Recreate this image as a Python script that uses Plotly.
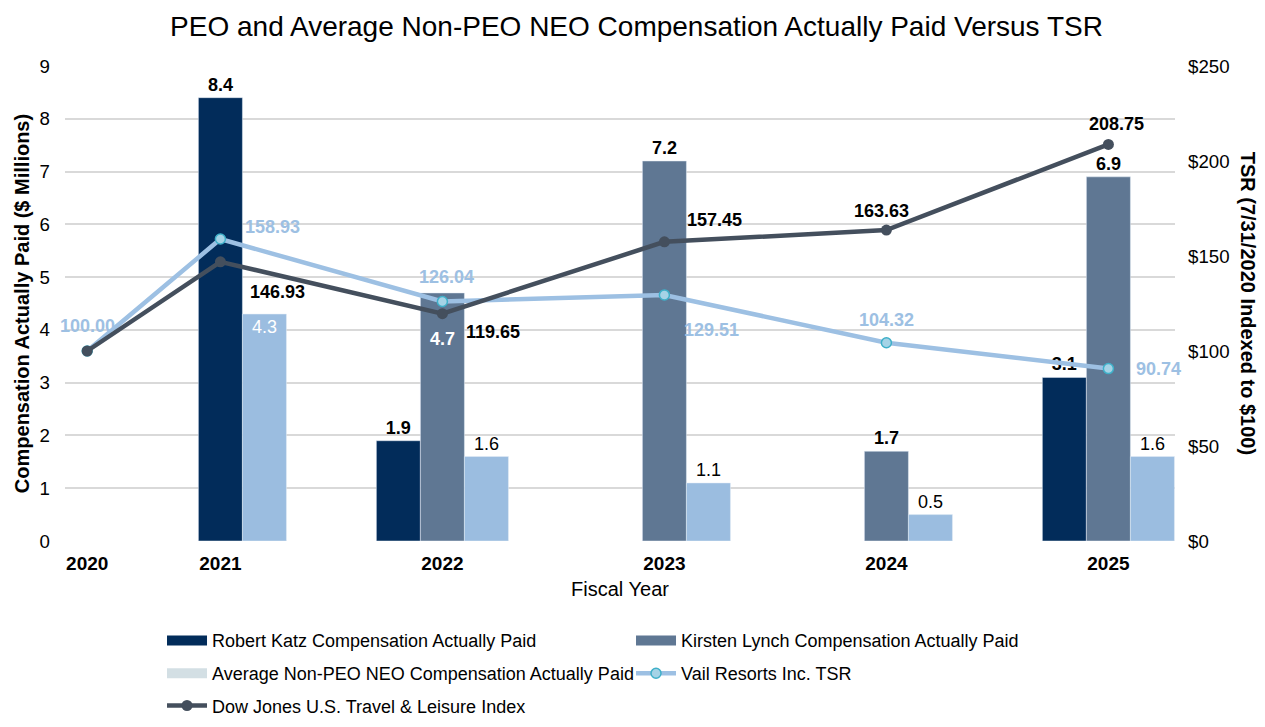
import plotly.graph_objects as go

years = ["2020", "2021", "2022", "2023", "2024", "2025"]
# axis placement of each fiscal year on the horizontal axis
x_pos = [0.4, 1, 2, 3, 4, 5]

katz = [None, 8.4, 1.9, None, None, 3.1]
lynch = [None, None, 4.7, 7.2, 1.7, 6.9]
avg_neo = [None, 4.3, 1.6, 1.1, 0.5, 1.6]
vail_tsr = [100.00, 158.93, 126.04, 129.51, 104.32, 90.74]
dow_jones = [100.00, 146.93, 119.65, 157.45, 163.63, 208.75]

C_KATZ = "#022c5a"
C_LYNCH = "#5f7793"
C_AVG = "#9bbde0"
C_AVG_LEG = "#d3dfe4"
C_VAIL = "#9dc0e3"
C_DOW = "#444f5d"
FONT = "Liberation Sans, Arial, sans-serif"
LBL = 18

# label offsets (pixels) of the line value labels relative to their points
vail_lbl_shift = [(0, 25), (52, 12), (4, 25), (47, -35), (0, 23), (50, 0)]
dow_lbl_shift = [None, (57, -30), (51, -18), (50, 22), (-5, 19), (8, 20)]

fig = go.Figure()

i21 = years.index("2021")
i22 = years.index("2022")
kx = [x_pos[i] for i in range(len(years)) if katz[i] is not None and i != i21]
ky = [katz[i] for i in range(len(years)) if katz[i] is not None and i != i21]

fig.add_trace(go.Bar(
    x=kx, y=ky, name="Robert Katz Compensation Actually Paid",
    marker_color=C_KATZ, offsetgroup="a", showlegend=False,
    text=[f"{v:.1f}" for v in ky], textposition="outside",
    textfont=dict(family=FONT, size=LBL, color="black", weight="bold"),
    cliponaxis=False, hoverinfo="skip"))

lx = [x_pos[i] for i in range(len(years)) if lynch[i] is not None]
ly = [v for v in lynch if v is not None]
lpos = ["none" if y == "2022" else "outside" for y, v in zip(years, lynch) if v is not None]
fig.add_trace(go.Bar(
    x=lx, y=ly, name="Kirsten Lynch Compensation Actually Paid",
    marker_color=C_LYNCH, offsetgroup="b", showlegend=False,
    text=[f"{v:.1f}" for v in ly], textposition=lpos,
    outsidetextfont=dict(family=FONT, size=LBL, color="black", weight="bold"),
    textangle=0, cliponaxis=False, hoverinfo="skip"))

# Katz 2021 sits in the middle slot of its group (no Lynch value that year)
fig.add_trace(go.Bar(
    x=[x_pos[i21]], y=[katz[i21]], name="Robert Katz Compensation Actually Paid",
    marker_color=C_KATZ, offsetgroup="b", showlegend=False,
    text=[f"{katz[i21]:.1f}"], textposition="outside",
    textfont=dict(family=FONT, size=LBL, color="black", weight="bold"),
    cliponaxis=False, hoverinfo="skip"))

ax = [x_pos[i] for i in range(len(years)) if avg_neo[i] is not None]
ay = [v for v in avg_neo if v is not None]
apos = ["inside" if y == "2021" else "outside" for y, v in zip(years, avg_neo) if v is not None]
fig.add_trace(go.Bar(
    x=ax, y=ay, name="Average Non-PEO NEO Compensation Actually Paid",
    marker_color=C_AVG, offsetgroup="c", showlegend=False,
    text=[f"{v:.1f}" for v in ay], textposition=apos, insidetextanchor="end",
    insidetextfont=dict(family=FONT, size=LBL, color="white"),
    outsidetextfont=dict(family=FONT, size=LBL, color="black"),
    textangle=0, cliponaxis=False, hoverinfo="skip"))

fig.add_trace(go.Scatter(
    x=x_pos, y=vail_tsr, yaxis="y2", name="Vail Resorts Inc. TSR", showlegend=False,
    mode="lines+markers",
    line=dict(color=C_VAIL, width=4.5),
    marker=dict(size=10, color="#a5d3e6", line=dict(color="#3fb0c9", width=1.5)),
    cliponaxis=False, hoverinfo="skip"))

fig.add_trace(go.Scatter(
    x=x_pos, y=dow_jones, yaxis="y2", name="Dow Jones U.S. Travel & Leisure Index",
    showlegend=False, mode="lines+markers",
    line=dict(color=C_DOW, width=4.5),
    marker=dict(size=11, color=C_DOW),
    cliponaxis=False, hoverinfo="skip"))

# legend entries (rectangular swatches for the bar series, as in the reference)
legend_items = [
    ("Robert Katz Compensation Actually Paid", "legend", dict(mode="lines", line=dict(color=C_KATZ, width=10))),
    ("Kirsten Lynch Compensation Actually Paid", "legend", dict(mode="lines", line=dict(color=C_LYNCH, width=10))),
    ("Average Non-PEO NEO Compensation Actually Paid", "legend2", dict(mode="lines", line=dict(color=C_AVG_LEG, width=10))),
    ("Vail Resorts Inc. TSR", "legend2", dict(mode="lines+markers", line=dict(color=C_VAIL, width=4.5),
                                               marker=dict(size=10, color="#a5d3e6", line=dict(color="#3fb0c9", width=1.5)))),
    ("Dow Jones U.S. Travel & Leisure Index", "legend3", dict(mode="lines+markers", line=dict(color=C_DOW, width=4.5),
                                                              marker=dict(size=11, color=C_DOW))),
]
for name, leg, style in legend_items:
    fig.add_trace(go.Scatter(x=[None], y=[None], name=name, legend=leg, hoverinfo="skip", **style))

annotations = []
for i, v in enumerate(vail_tsr):
    dx, dy = vail_lbl_shift[i]
    annotations.append(dict(x=x_pos[i], y=v, xref="x", yref="y2", text=f"<b>{v:.2f}</b>",
                            showarrow=False, xshift=dx, yshift=dy,
                            font=dict(family=FONT, size=LBL, color=C_VAIL)))
for i, v in enumerate(dow_jones):
    if dow_lbl_shift[i] is None:
        continue
    dx, dy = dow_lbl_shift[i]
    annotations.append(dict(x=x_pos[i], y=v, xref="x", yref="y2", text=f"<b>{v:.2f}</b>",
                            showarrow=False, xshift=dx, yshift=dy,
                            font=dict(family=FONT, size=LBL, color="black")))
# Lynch 2022 value label, drawn inside its bar below the line markers
annotations.append(dict(x=x_pos[i22], y=lynch[i22], xref="x", yref="y", text=f"<b>{lynch[i22]:.1f}</b>",
                        showarrow=False, yshift=-46, font=dict(family=FONT, size=LBL, color="white")))
annotations.append(dict(text="<b>TSR (7/31/2020 Indexed to $100)</b>", xref="paper", yref="paper",
                        x=1.0665, y=0.5, xanchor="center", yanchor="middle", textangle=90,
                        showarrow=False, font=dict(family=FONT, size=20, color="black")))

leg_common = dict(orientation="h", x=0.0874, xanchor="left", yanchor="top",
                  entrywidth=414, entrywidthmode="pixels", traceorder="normal",
                  font=dict(family=FONT, size=18, color="black"),
                  itemwidth=40, bgcolor="rgba(0,0,0,0)")

fig.update_layout(
    width=1257, height=719,
    margin=dict(l=57, r=90, t=58, b=186, autoexpand=False),
    paper_bgcolor="white", plot_bgcolor="white",
    font=dict(family=FONT, size=18, color="black"),
    title=dict(text="PEO and Average Non-PEO NEO Compensation Actually Paid Versus TSR",
               x=0.5, xanchor="center", y=0.975, yanchor="middle",
               font=dict(family=FONT, size=28, color="black")),
    barmode="group", bargap=0.405, bargroupgap=0,
    showlegend=True,
    legend=dict(leg_common, y=-0.171),
    legend2=dict(leg_common, y=-0.240),
    legend3=dict(leg_common, y=-0.308),
    xaxis=dict(range=[0.3, 5.3], tickmode="array", tickvals=x_pos,
               ticktext=[f"<b>{y}</b>" for y in years], showgrid=False,
               zeroline=False, showline=False, ticks="", automargin=False,
               ticklabelstandoff=9,
               tickfont=dict(family=FONT, size=19, color="black"),
               title=dict(text="Fiscal Year", standoff=8,
                          font=dict(family=FONT, size=20, color="black"))),
    yaxis=dict(range=[0, 9], dtick=1, showgrid=True, gridcolor="#d9d9d9", gridwidth=2,
               zeroline=False, showline=False, ticks="", ticklabelstandoff=14,
               automargin=False,
               tickfont=dict(family=FONT, size=18.7, color="black"),
               title=dict(text="<b>Compensation Actually Paid ($ Millions)</b>", standoff=4,
                          font=dict(family=FONT, size=20, color="black"))),
    yaxis2=dict(range=[0, 250], dtick=50, overlaying="y", side="right", showgrid=False,
                zeroline=False, showline=False, ticks="", tickprefix="$",
                ticklabelstandoff=12, automargin=False,
                tickfont=dict(family=FONT, size=18.7, color="black")),
    annotations=annotations,
)

fig.write_html("out.html")
